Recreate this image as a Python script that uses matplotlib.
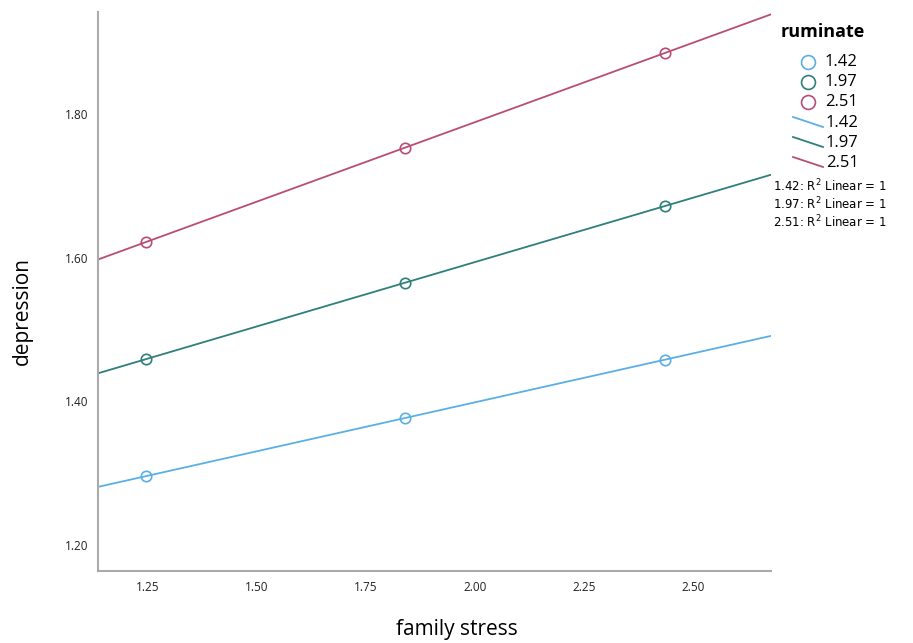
import numpy as np
import matplotlib
matplotlib.use("Agg")
import matplotlib.pyplot as plt
from matplotlib.lines import Line2D

# Data
family_stress = [1.245, 1.84, 2.435]
ruminate_levels = ["1.42", "1.97", "2.51"]
depression_142 = [1.296, 1.377, 1.458]
depression_197 = [1.459, 1.565, 1.672]
depression_251 = [1.622, 1.753, 1.885]
series = [depression_142, depression_197, depression_251]
colors = ["#5aafe6", "#2f7f7b", "#b84d75"]
x_ticks = [1.25, 1.50, 1.75, 2.00, 2.25, 2.50]
y_ticks = [1.20, 1.40, 1.60, 1.80]

plt.rcParams['font.family'] = ['Open Sans', 'DejaVu Sans']

fig = plt.figure(figsize=(9.13, 6.43), dpi=100)
ax = fig.add_axes([98/913, 72/643, (771-98)/913, (571-12)/643])
xlim = (1.135, 2.679)
ylim = (1.164, 1.942)
ax.set_xlim(*xlim)
ax.set_ylim(*ylim)

xs = np.array(xlim)
for ys, c in zip(series, colors):
    k, b = np.polyfit(family_stress, ys, 1)
    ax.plot(xs, k * xs + b, color=c, lw=1.3, zorder=2)
    ax.plot(family_stress, ys, 'o', mfc='none', mec=c, mew=1.2, ms=7.5, zorder=3)

for s in ['top', 'right']:
    ax.spines[s].set_visible(False)
for s in ['left', 'bottom']:
    ax.spines[s].set_color('#aaaaaa')
    ax.spines[s].set_linewidth(1.5)
ax.set_xticks(x_ticks)
ax.set_xticklabels([f"{v:.2f}" for v in x_ticks])
ax.set_yticks(y_ticks)
ax.set_yticklabels([f"{v:.2f}" for v in y_ticks])
ax.tick_params(length=0, labelsize=8.5, colors='#222222', pad=7)
ax.tick_params(axis='y', pad=7)

# Manual legend and labels (figure pixel coordinates)
W, H = 913, 643
def fx(px): return px / W
def fy(py): return 1 - py / H

fig.text(fx(457), fy(629), "family stress", fontsize=15, va='center', ha='center')
fig.text(fx(22), fy(311), "depression", fontsize=15, va='center', ha='center', rotation=90)

fig.text(fx(781), fy(32), "ruminate", fontsize=13, fontweight='bold', va='center', ha='left')
row_y = [62, 82, 102]
for lab, c, yy in zip(ruminate_levels, colors, row_y):
    fig.add_artist(Line2D([fx(808)], [fy(yy)], marker='o', mfc='none', mec=c, mew=1.2, ms=10,
                          transform=fig.transFigure))
    fig.text(fx(825), fy(yy), lab, fontsize=12, va='center', ha='left')
line_y = [123, 143, 163]
for lab, c, yy in zip(ruminate_levels, colors, line_y):
    fig.add_artist(Line2D([fx(793), fx(823)], [fy(yy - 6), fy(yy + 4)], color=c, lw=1.3,
                          transform=fig.transFigure))
    fig.text(fx(826), fy(yy), lab, fontsize=12, va='center', ha='left')
r2_y = [186, 204, 222]
for lab, yy in zip(ruminate_levels, r2_y):
    fig.text(fx(773), fy(yy), f"{lab}: R$^2$ Linear = 1", fontsize=8.5, va='center', ha='left',
             family='DejaVu Sans')

fig.savefig("out.png", dpi=100)
